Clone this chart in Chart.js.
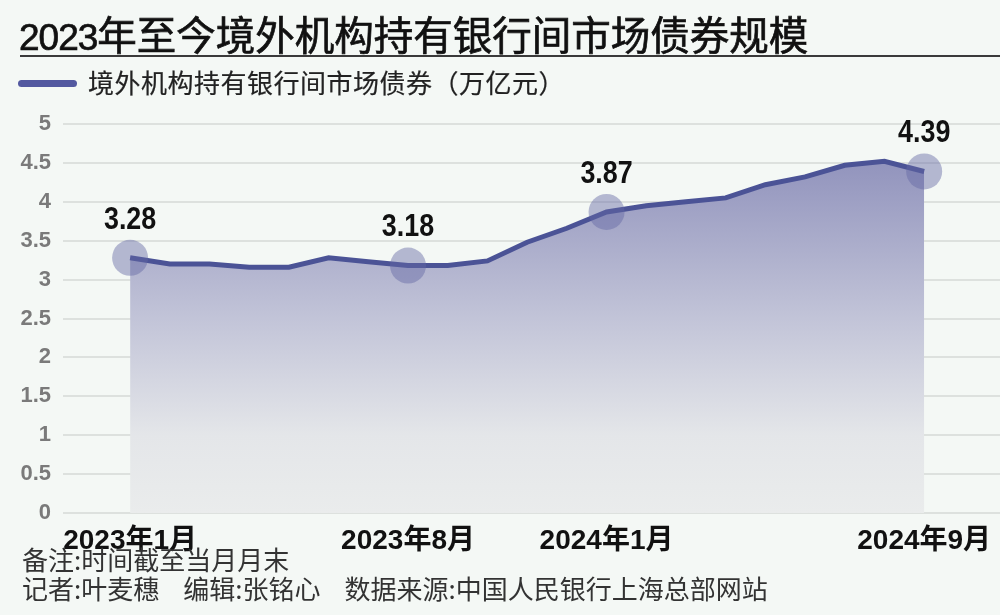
<!DOCTYPE html>
<html>
<head>
<meta charset="utf-8">
<script src="https://cdn.jsdelivr.net/npm/chart.js@4.4.1/dist/chart.umd.min.js"></script>
<style>
    body { margin: 0; background: #f4f8f5; font-family: "Noto Sans CJK SC", sans-serif; }
    #page { position: relative; width: 1000px; height: 615px; overflow: hidden; }
    #chartBox { position: absolute; left: 0; top: 0; width: 1000px; height: 615px; }
    #title { position: absolute; left: 19px; top: 9px; font-size: 39.5px; line-height: 48px; color: #111; white-space: nowrap; -webkit-text-stroke: 0.7px #111; }
    #title .num { font-family: "Liberation Sans", sans-serif; font-size: 37px; letter-spacing: -1px; }
    #rule { position: absolute; left: 20px; right: 0; top: 55px; height: 2px; background: #3a3a3a; }
    #legend { position: absolute; left: 18px; top: 65px; font-size: 26px; line-height: 34px; color: #222; white-space: nowrap; letter-spacing: 0.5px; -webkit-text-stroke: 0.2px #222; }
    #legend .mark { display: inline-block; width: 59px; height: 7px; border-radius: 4px; background: #5359a0; vertical-align: middle; margin-right: 11px; position: relative; top: -2px; }
    .foot { position: absolute; left: 22px; font-size: 26px; line-height: 30px; color: #333; white-space: nowrap; }
    #note { top: 544px; }
    #credit { top: 573px; }
    #credit .gap { display: inline-block; width: 24px; }
</style>
</head>
<body>
<div id="page">
    <div id="chartBox"><canvas id="holdChart"></canvas></div>
    <div id="title"><span class="num">2023</span>年至今境外机构持有银行间市场债券规模</div>
    <div id="rule"></div>
    <div id="legend"><span class="mark"></span>境外机构持有银行间市场债券（万亿元）</div>
    <div class="foot" id="note">备注:时间截至当月月末</div>
    <div class="foot" id="credit">记者:叶麦穗<span class="gap"></span>编辑:张铭心<span class="gap"></span>数据来源:中国人民银行上海总部网站</div>
</div>
<script>
// Months covered, Jan 2023 to Sep 2024
const MONTHS = ['2023年1月', '2023年2月', '2023年3月', '2023年4月', '2023年5月', '2023年6月',
    '2023年7月', '2023年8月', '2023年9月', '2023年10月', '2023年11月', '2023年12月',
    '2024年1月', '2024年2月', '2024年3月', '2024年4月', '2024年5月', '2024年6月',
    '2024年7月', '2024年8月', '2024年9月'];

// Holdings, trillion yuan
const HOLDINGS = [3.28, 3.20, 3.20, 3.16, 3.16, 3.28, 3.23, 3.18, 3.18, 3.24, 3.48, 3.66,
    3.87, 3.95, 4.00, 4.05, 4.22, 4.32, 4.47, 4.52, 4.39];

// Months that get an x label and a highlighted value
const LABELLED = [0, 7, 12, 20];
const Y_TICKS = [0, 0.5, 1, 1.5, 2, 2.5, 3, 3.5, 4, 4.5, 5];

const SANS = '"Liberation Sans", "Noto Sans CJK SC", sans-serif';

// Draw the value above each highlighted point (squeezed a little, like a narrow face)
const valueLabels = {
    id: 'valueLabels',
    afterDatasetsDraw(chart) {
        const ctx = chart.ctx;
        const meta = chart.getDatasetMeta(0);
        LABELLED.forEach(i => {
            const pt = meta.data[i];
            ctx.save();
            ctx.translate(pt.x, pt.y - 38);
            ctx.scale(0.84, 1);
            ctx.fillStyle = '#111';
            ctx.font = 'bold 32px ' + SANS;
            ctx.textAlign = 'center';
            ctx.textBaseline = 'middle';
            ctx.fillText(HOLDINGS[i].toFixed(2), 0, 0);
            ctx.restore();
        });
    }
};

function areaFill(context) {
    const area = context.chart.chartArea;
    if (!area) return 'rgba(150,152,190,0.6)';
    const g = context.chart.ctx.createLinearGradient(0, area.top, 0, area.bottom);
    g.addColorStop(0, '#8a8cb8');
    g.addColorStop(0.1, '#9294bd');
    g.addColorStop(0.5, '#c2c4d8');
    g.addColorStop(0.8, '#e4e6e9');
    g.addColorStop(1, '#eaecec');
    return g;
}

new Chart(document.getElementById('holdChart'), {
    type: 'line',
    data: {
        datasets: [{
            label: '境外机构持有银行间市场债券（万亿元）',
            data: HOLDINGS.map((v, i) => ({ x: i, y: v })),
            borderColor: '#4b5396',
            borderWidth: 5,
            fill: 'origin',
            backgroundColor: areaFill,
            tension: 0,
            pointRadius: ctx => LABELLED.includes(ctx.dataIndex) ? 18 : 0,
            pointHoverRadius: ctx => LABELLED.includes(ctx.dataIndex) ? 18 : 0,
            pointBackgroundColor: 'rgba(100,104,165,0.45)',
            pointBorderWidth: 0,
            clip: false
        }]
    },
    options: {
        responsive: true,
        maintainAspectRatio: false,
        animation: false,
        layout: { autoPadding: false, padding: { top: 124, right: 0, left: 0, bottom: 0 } },
        plugins: {
            legend: { display: false },
            tooltip: { enabled: false }
        },
        scales: {
            x: {
                type: 'linear',
                min: -1.69,
                max: 21.91,
                afterBuildTicks: scale => { scale.ticks = LABELLED.map(i => ({ value: i })); },
                afterFit: scale => {
                    scale.height = 102;
                    scale.paddingLeft = 0;
                    scale.paddingRight = 0;
                },
                grid: { display: false },
                border: { display: false },
                ticks: {
                    autoSkip: false,
                    maxRotation: 0,
                    padding: 3,
                    color: '#111',
                    font: { family: SANS, size: 28, weight: 'bold' },
                    callback: value => MONTHS[value]
                }
            },
            y: {
                min: 0,
                max: 5,
                afterBuildTicks: scale => { scale.ticks = Y_TICKS.map(v => ({ value: v })); },
                afterFit: scale => { scale.width = 63; },
                grid: { color: '#dde1de', lineWidth: 2, drawTicks: false },
                border: { display: false },
                ticks: {
                    padding: 12,
                    color: '#7a7a7a',
                    font: { family: SANS, size: 22, weight: 'bold' },
                    callback: value => String(value)
                }
            }
        }
    },
    plugins: [valueLabels]
});
</script>
</body>
</html>
